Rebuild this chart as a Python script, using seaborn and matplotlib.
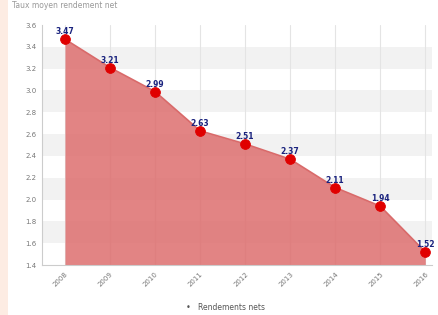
import matplotlib
matplotlib.use("Agg")
import matplotlib.pyplot as plt
import matplotlib.patches as mpatches
import seaborn as sns
import pandas as pd

years = [2008, 2009, 2010, 2011, 2012, 2013, 2014, 2015, 2016]
rendements = [3.47, 3.21, 2.99, 2.63, 2.51, 2.37, 2.11, 1.94, 1.52]
yticks = [1.4, 1.6, 1.8, 2.0, 2.2, 2.4, 2.6, 2.8, 3.0, 3.2, 3.4, 3.6]
series_name = "Rendements nets"

df = pd.DataFrame({"annee": years, "valeur": rendements})

sns.set_style("white")
fig = plt.figure(figsize=(4.38, 3.15), dpi=100)
ax = fig.add_axes([42 / 438, 1 - 265 / 315, 390 / 438, 240 / 315])

# peach strip on the left edge of the page
fig.patches.append(mpatches.Rectangle((0, 0), 8 / 438, 1, transform=fig.transFigure,
                                      facecolor="#fdece3", edgecolor="none", zorder=0))

# alternating light bands
for lo in [1.6, 2.0, 2.4, 2.8, 3.2]:
    ax.axhspan(lo, lo + 0.2, color="#f2f2f2", zorder=0, lw=0)
for yr in years:
    ax.axvline(yr, color="#e4e4e4", lw=0.8, zorder=0.5)

ax.fill_between(df["annee"], df["valeur"], 1.4, color="#dd6e6e", alpha=0.85, lw=0, zorder=1)
sns.lineplot(data=df, x="annee", y="valeur", ax=ax, color="#d96a6a", lw=1.2, zorder=2)
sns.scatterplot(data=df, x="annee", y="valeur", ax=ax, color="#e00000", s=50,
                edgecolor="#e00000", zorder=3)

for yr, v in zip(years, rendements):
    ax.text(yr, v + 0.025, f"{v:.2f}", ha="center", va="bottom", fontsize=5.5,
            fontweight="bold", color="#1a237e", zorder=4)

ax.set_xlim(2007.49, 2016.15)
ax.set_ylim(1.4, 3.6)
ax.set_yticks(yticks)
ax.set_yticklabels([f"{t:.1f}" for t in yticks], fontsize=5, color="#777777")
ax.set_xticks(years)
ax.set_xticklabels([str(y) for y in years], rotation=45, ha="right", fontsize=5,
                   color="#777777", rotation_mode="anchor")
ax.tick_params(axis="both", length=0, pad=4)
ax.set_xlabel("")
ax.set_ylabel("")
for side in ["top", "right"]:
    ax.spines[side].set_visible(False)
for side in ["left", "bottom"]:
    ax.spines[side].set_color("#cccccc")
    ax.spines[side].set_linewidth(0.8)

# small title at the top
fig.text(12 / 438, 1 - 5 / 315, "Taux moyen rendement net", fontsize=5.5, color="#999999",
         ha="left", va="center")

# legend
fig.text(188 / 438, 1 - 308 / 315, "\u2022", fontsize=6, color="#555555", ha="center", va="center")
fig.text(198 / 438, 1 - 308 / 315, series_name, fontsize=5.5, color="#555555",
         ha="left", va="center")

fig.savefig("out.png", dpi=100)
